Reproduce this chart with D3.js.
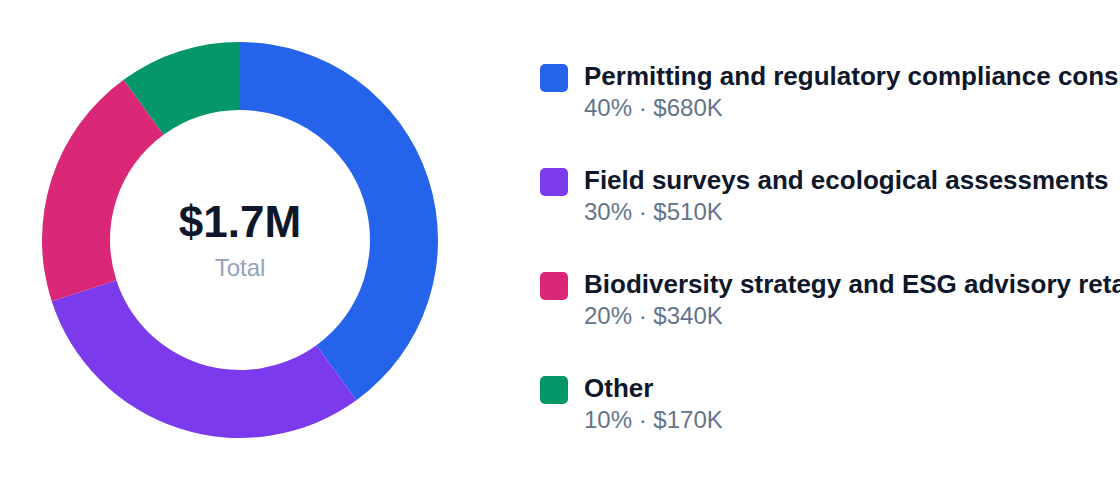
<!DOCTYPE html>
<html>
<head>
<meta charset="utf-8">
<script src="https://cdn.jsdelivr.net/npm/d3@7/dist/d3.min.js"></script>
<style>
  html, body { margin: 0; padding: 0; background: #fff; overflow: hidden; }
  svg { display: block; font-family: "Liberation Sans", Arial, sans-serif; }
</style>
</head>
<body>
<svg id="chart" width="1120" height="488"></svg>
<script>
// segment data
const categories = [
  "Permitting and regulatory compliance consulting",
  "Field surveys and ecological assessments",
  "Biodiversity strategy and ESG advisory retainers",
  "Other"
];
const values = [680, 510, 340, 170]; // $K
const shares = [40, 30, 20, 10];     // %
const colors = ["#2563eb", "#7c3aed", "#db2777", "#059669"];
const totalLabel = "$1.7M";

let width = 1120, height = 488;
let cx = 240, cy = 240,
    outerR = 198, innerR = 130;

let svg = d3.select("#chart");

let color = d3.scaleOrdinal()
    .domain(categories)
    .range(colors);

let pie = d3.pie()
    .sort(null)
    .value(function (d, i) { return values[i]; });

let arc = d3.arc()
    .innerRadius(innerR)
    .outerRadius(outerR);

let donut = svg.append("g")
    .attr("transform", "translate(" + cx + "," + cy + ")");

donut.selectAll("path")
    .data(pie(categories))
    .enter().append("path")
    .attr("d", arc)
    .attr("fill", function (d) { return color(d.data); });

donut.append("text")
    .attr("text-anchor", "middle")
    .attr("y", -3)
    .attr("font-size", 44)
    .attr("font-weight", "bold")
    .attr("fill", "#0f172a")
    .text(totalLabel);

donut.append("text")
    .attr("text-anchor", "middle")
    .attr("y", 36)
    .attr("font-size", 24)
    .attr("fill", "#94a3b8")
    .text("Total");

// legend
let rowY = d3.scalePoint()
    .domain(categories)
    .range([64, 376]);

let legend = svg.selectAll(".legend")
    .data(categories)
    .enter().append("g")
    .attr("class", "legend")
    .attr("transform", function (d) { return "translate(540," + rowY(d) + ")"; });

legend.append("rect")
    .attr("width", 28)
    .attr("height", 28)
    .attr("rx", 5)
    .attr("fill", function (d) { return color(d); });

legend.append("text")
    .attr("x", 44)
    .attr("y", 21)
    .attr("font-size", 26)
    .attr("font-weight", "bold")
    .attr("fill", "#0f172a")
    .text(function (d) { return d; });

legend.append("text")
    .attr("x", 44)
    .attr("y", 52)
    .attr("font-size", 24)
    .attr("fill", "#64748b")
    .text(function (d, i) { return shares[i] + "% \u00b7 $" + values[i] + "K"; });
</script>
</body>
</html>
